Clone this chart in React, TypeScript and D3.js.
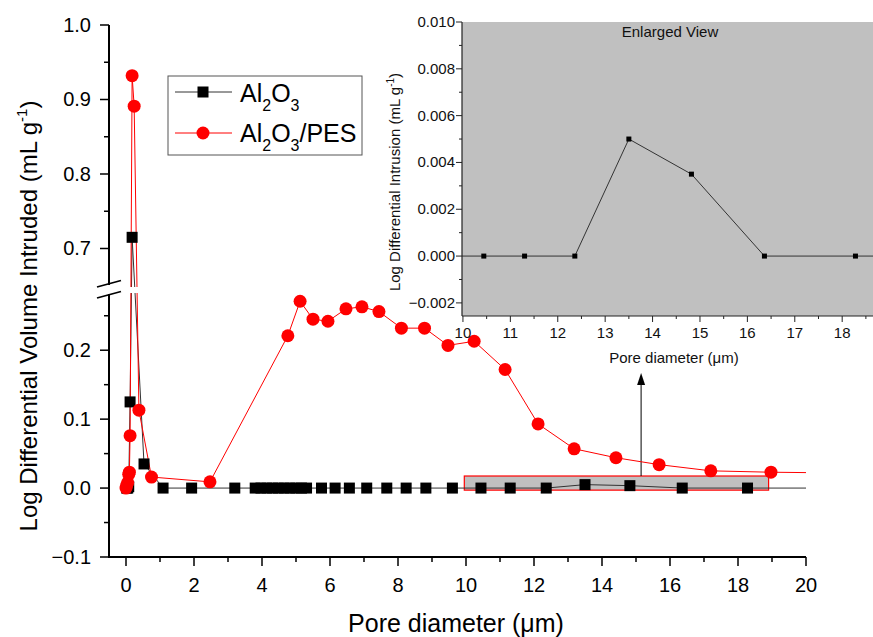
import * as d3 from 'd3';
import React from 'react';

const W = 873;
const H = 637;
const font = "'Liberation Sans', Arial, Helvetica, sans-serif";
const red = '#ff0000';

// Al2O3 (black squares)
const al2o3X = [0.02, 0.05, 0.08, 0.12, 0.18, 0.53, 1.09, 1.93, 3.2, 3.8, 3.97, 4.14, 4.31, 4.48, 4.65, 4.82, 4.99, 5.16, 5.31, 5.75, 6.15, 6.57, 7.08, 7.67, 8.24, 8.82, 9.6, 10.44, 11.3, 12.36, 13.5, 14.82, 16.36, 18.28, 20.6];
const al2o3Y = [0, 0, 0.002, 0.125, 0.715, 0.035, 0, 0, 0, 0, 0, 0, 0, 0, 0, 0, 0, 0, 0, 0, 0, 0, 0, 0, 0, 0, 0, 0, 0, 0, 0.005, 0.0035, 0, 0, 0];

// Al2O3/PES (red circles)
const pesX = [0.0, 0.02, 0.05, 0.08, 0.1, 0.12, 0.18, 0.24, 0.38, 0.75, 2.47, 4.76, 5.12, 5.5, 5.94, 6.47, 6.94, 7.44, 8.1, 8.78, 9.47, 10.24, 11.15, 12.12, 13.18, 14.41, 15.68, 17.2, 18.97, 20.8];
const pesY = [0.0, 0.004, 0.008, 0.02, 0.023, 0.076, 0.932, 0.891, 0.113, 0.016, 0.009, 0.221, 0.271, 0.245, 0.242, 0.26, 0.263, 0.256, 0.232, 0.232, 0.207, 0.213, 0.172, 0.093, 0.057, 0.044, 0.034, 0.025, 0.023, 0.022];

// highlighted region [x0, x1, y0, y1] and arrow [x, yFrom, yTo]
const zoomBox = [9.95, 18.9, -0.003, 0.0175];
const arrow = [15.15, 0.0175, 0.167];

// scales
const xMain = d3.scaleLinear().domain([-0.5, 20]).range([109, 806]);
const yLow = d3.scaleLinear().domain([-0.1, 0.283]).range([557, 293]);
const yUp = d3.scaleLinear().domain([0.651, 1.0]).range([285, 25]);
const yMain = (v: number) => (v >= 0.5 ? yUp(v) : yLow(v));

const xIn = d3.scaleLinear().domain([9.98, 18.65]).range([462, 873]);
const yIn = d3.scaleLinear().domain([-0.00256, 0.01]).range([316, 22]);

const isMult = (v: number, step: number) => Math.abs(Math.round(v / step) - v / step) < 1e-6;

const App = () => {
  const black = al2o3X.map((x, i) => [x, al2o3Y[i]] as [number, number]);
  const pes = pesX.map((x, i) => [x, pesY[i]] as [number, number]);

  const mainLine = d3.line<[number, number]>().x(d => xMain(d[0])).y(d => yMain(d[1]));
  const inLine = d3.line<[number, number]>().x(d => xIn(d[0])).y(d => yIn(d[1]));

  const xTicks = xMain.ticks(20).filter(v => v >= 0);
  const yLowTicks = yLow.ticks(8);
  const yUpTicks = yUp.ticks(8);
  const fmt1 = d3.format('.1f');
  const fmt3 = d3.format('.3f');

  const xInTicks = xIn.ticks(18);
  const yInTicks = yIn.ticks(12);

  const inView = (d: [number, number]) => d[0] <= 20;

  const bx0 = xMain(zoomBox[0]);
  const bx1 = xMain(zoomBox[1]);
  const by0 = yLow(zoomBox[3]);
  const by1 = yLow(zoomBox[2]);
  const ax = xMain(arrow[0]);
  const ay0 = yLow(arrow[1]);
  const ay1 = yLow(arrow[2]);

  return (
    <svg width={W} height={H} fontFamily={font} style={{ position: 'absolute', left: 0, top: 0, background: '#fff' }}>
      <defs>
        <clipPath id="mainClip">
          <rect x={109} y={0} width={806 - 109} height={560} />
        </clipPath>
        <clipPath id="inClip">
          <rect x={462} y={22} width={W - 462} height={316 - 22} />
        </clipPath>
      </defs>

      {/* highlight box */}
      <rect x={bx0} y={by0} width={bx1 - bx0} height={by1 - by0} fill="#c0c0c0" stroke={red} strokeWidth={1.2} />
      <line x1={ax} x2={ax} y1={ay0} y2={ay1 + 10} stroke="#000" strokeWidth={1} />
      <path d={`M${ax},${ay1} L${ax - 4},${ay1 + 12} L${ax + 4},${ay1 + 12} Z`} fill="#000" />

      {/* series */}
      <g clipPath="url(#mainClip)">
        <path d={mainLine(black) || ''} fill="none" stroke="#333" strokeWidth={1} />
        <path d={mainLine(pes) || ''} fill="none" stroke={red} strokeWidth={1} />
      </g>
      {/* gap in lines at axis break */}
      <rect x={111} y={287} width={50} height={6} fill="#fff" />
      {black.filter(inView).map((d, i) => (
        <rect key={'b' + i} x={xMain(d[0]) - 5.5} y={yMain(d[1]) - 5.5} width={11} height={11} fill="#000" />
      ))}
      {pes.filter(inView).map((d, i) => (
        <circle key={'r' + i} cx={xMain(d[0])} cy={yMain(d[1])} r={6.5} fill={red} />
      ))}

      {/* main y axis with break */}
      <line x1={109} x2={109} y1={25} y2={285} stroke="#000" strokeWidth={2} />
      <line x1={109} x2={109} y1={294} y2={557} stroke="#000" strokeWidth={2} />
      <line x1={97} y1={287} x2={121} y2={280.5} stroke="#000" strokeWidth={1.8} />
      <line x1={97} y1={298} x2={121} y2={291.5} stroke="#000" strokeWidth={1.8} />
      {yUpTicks.map(v => {
        const major = isMult(v, 0.1);
        return (
          <g key={'yu' + v}>
            <line x1={109 - (major ? 9 : 5)} x2={109} y1={yUp(v)} y2={yUp(v)} stroke="#000" strokeWidth={1.5} />
            {major && <text x={91} y={yUp(v) + 7} fontSize={20} textAnchor="end">{fmt1(v)}</text>}
          </g>
        );
      })}
      {yLowTicks.map(v => {
        const major = isMult(v, 0.1);
        return (
          <g key={'yl' + v}>
            <line x1={109 - (major ? 9 : 5)} x2={109} y1={yLow(v)} y2={yLow(v)} stroke="#000" strokeWidth={1.5} />
            {major && <text x={91} y={yLow(v) + 7} fontSize={20} textAnchor="end">{fmt1(Math.abs(v) < 1e-9 ? 0 : v)}</text>}
          </g>
        );
      })}

      {/* main x axis */}
      <line x1={108} x2={806} y1={557} y2={557} stroke="#000" strokeWidth={2} />
      {xTicks.map(v => {
        const major = isMult(v, 2);
        return (
          <g key={'x' + v}>
            <line x1={xMain(v)} x2={xMain(v)} y1={557} y2={557 + (major ? 9 : 5)} stroke="#000" strokeWidth={1.5} />
            {major && <text x={xMain(v)} y={592} fontSize={20} textAnchor="middle">{v}</text>}
          </g>
        );
      })}

      {/* axis titles */}
      <text x={456} y={632} fontSize={25} textAnchor="middle">Pore diameter (μm)</text>
      <text transform="translate(37,316) rotate(-90)" fontSize={24} textAnchor="middle">
        Log Differential Volume Intruded (mL g<tspan fontSize={15} dy={-10}>-1</tspan><tspan dy={10}>)</tspan>
      </text>

      {/* legend */}
      <rect x={168} y={76} width={194} height={79} fill="#fff" stroke="#555" strokeWidth={1} />
      <line x1={175} x2={232} y1={92} y2={92} stroke="#333" strokeWidth={1} />
      <rect x={203 - 5.5} y={92 - 5.5} width={11} height={11} fill="#000" />
      <line x1={175} x2={232} y1={133} y2={133} stroke={red} strokeWidth={1} />
      <circle cx={203} cy={133} r={6.5} fill={red} />
      <text x={240} y={102} fontSize={25}>
        Al<tspan fontSize={16} dy={9}>2</tspan><tspan dy={-9}>O</tspan><tspan fontSize={16} dy={9}>3</tspan>
      </text>
      <text x={240} y={142} fontSize={25}>
        Al<tspan fontSize={16} dy={9}>2</tspan><tspan dy={-9}>O</tspan><tspan fontSize={16} dy={9}>3</tspan><tspan dy={-9}>/PES</tspan>
      </text>

      {/* inset */}
      <rect x={462} y={22} width={W - 462} height={316 - 22} fill="#c0c0c0" />
      <g clipPath="url(#inClip)">
        <path d={inLine(black) || ''} fill="none" stroke="#333" strokeWidth={1} />
        {black.filter(d => d[0] >= 9.98).map((d, i) => (
          <rect key={'ib' + i} x={xIn(d[0]) - 2.5} y={yIn(d[1]) - 2.5} width={5} height={5} fill="#000" />
        ))}
      </g>
      <line x1={462} x2={462} y1={22} y2={316} stroke="#222" strokeWidth={1.2} />
      <line x1={462} x2={W} y1={316} y2={316} stroke="#222" strokeWidth={1.2} />
      {yInTicks.map(v => {
        const major = isMult(v, 0.002);
        return (
          <g key={'iy' + v}>
            <line x1={462 - (major ? 6 : 3)} x2={462} y1={yIn(v)} y2={yIn(v)} stroke="#222" strokeWidth={1} />
            {major && <text x={455} y={yIn(v) + 5} fontSize={15} textAnchor="end" fill="#111">{fmt3(Math.abs(v) < 1e-9 ? 0 : v)}</text>}
          </g>
        );
      })}
      {xInTicks.map(v => {
        const major = isMult(v, 1);
        return (
          <g key={'ix' + v}>
            <line x1={xIn(v)} x2={xIn(v)} y1={316} y2={316 + (major ? 6 : 3)} stroke="#222" strokeWidth={1} />
            {major && <text x={xIn(v)} y={338} fontSize={15} textAnchor="middle" fill="#111">{v}</text>}
          </g>
        );
      })}
      <text x={670} y={37} fontSize={15} textAnchor="middle" fill="#111">Enlarged View</text>
      <text x={674} y={363} fontSize={15} textAnchor="middle" fill="#111">Pore diameter (μm)</text>
      <text transform="translate(400,182) rotate(-90)" fontSize={15} textAnchor="middle" fill="#111">
        Log Differential Intrusion (mL g<tspan fontSize={10} dy={-6}>-1</tspan><tspan dy={6}>)</tspan>
      </text>
    </svg>
  );
};

export default App;
